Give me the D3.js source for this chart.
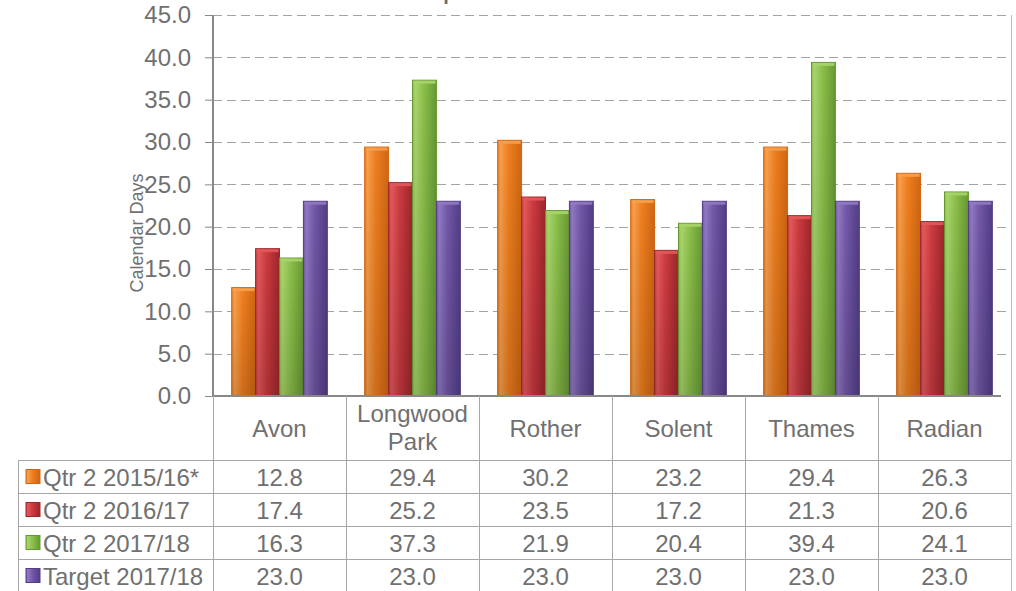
<!DOCTYPE html>
<meta charset='utf-8'>
<html>

<head>
    <title>Calendar Days comparison</title>
    <script src="https://cdn.jsdelivr.net/npm/d3@7"></script>
    <style>
        body {
            padding: 0;
            margin: 0;
            background: #fff;
        }

        svg text {
            font-family: "Liberation Sans", Arial, sans-serif;
            fill: #707070;
        }
    </style>
</head>

<body>
    <div id="chart"></div>

    <script>
        // data
        var categories = ["Avon", "Longwood Park", "Rother", "Solent", "Thames", "Radian"];
        var seriesNames = ["Qtr 2 2015/16*", "Qtr 2 2016/17", "Qtr 2 2017/18", "Target 2017/18"];
        var qtr2_1516 = [12.8, 29.4, 30.2, 23.2, 29.4, 26.3];
        var qtr2_1617 = [17.4, 25.2, 23.5, 17.2, 21.3, 20.6];
        var qtr2_1718 = [16.3, 37.3, 21.9, 20.4, 39.4, 24.1];
        var target_1718 = [23.0, 23.0, 23.0, 23.0, 23.0, 23.0];
        var yTicks = [0, 5, 10, 15, 20, 25, 30, 35, 40, 45];

        var seriesValues = [qtr2_1516, qtr2_1617, qtr2_1718, target_1718];

        // light / mid / dark per series for the bevelled look
        var palette = [
            ["#f7a04e", "#f07f1f", "#cf6612"],
            ["#e2595b", "#cc3b40", "#9c262b"],
            ["#a8d46c", "#8cc04b", "#679833"],
            ["#9079c2", "#7358a8", "#523d87"]
        ];

        var W = 1016, H = 591;
        var plotLeft = 213, plotRight = 1011, plotTop = 15, plotBase = 396;
        var tableLeft = 18;
        var headerBottom = 460, rowH = 33;
        var fontSize = "24px";

        var svg = d3.select("#chart").append("svg")
            .attr("width", W)
            .attr("height", H);

        var defs = svg.append("defs");
        palette.forEach(function (c, i) {
            var g = defs.append("linearGradient")
                .attr("id", "grad" + i)
                .attr("x1", 0).attr("x2", 1).attr("y1", 0).attr("y2", 0);
            g.append("stop").attr("offset", "0%").attr("stop-color", c[1]);
            g.append("stop").attr("offset", "12%").attr("stop-color", c[0]);
            g.append("stop").attr("offset", "45%").attr("stop-color", c[1]);
            g.append("stop").attr("offset", "100%").attr("stop-color", c[2]);
            var v = defs.append("linearGradient")
                .attr("id", "shade" + i)
                .attr("x1", 0).attr("x2", 0).attr("y1", 0).attr("y2", 1);
            v.append("stop").attr("offset", "0%").attr("stop-color", "#000").attr("stop-opacity", 0);
            v.append("stop").attr("offset", "100%").attr("stop-color", "#000").attr("stop-opacity", 0.14);
        });

        var x0 = d3.scaleBand()
            .domain(categories)
            .range([plotLeft, plotRight])
            .padding(0);

        var x1 = d3.scaleBand()
            .domain(d3.range(seriesNames.length))
            .range([0, x0.bandwidth()])
            .paddingInner(0)
            .paddingOuter(0.78);

        var y = d3.scaleLinear()
            .domain([0, 45])
            .range([plotBase, plotTop]);

        // title (mostly cut off at the top)
        svg.append("text")
            .attr("x", 577)
            .attr("y", 0)
            .attr("text-anchor", "middle")
            .style("font-size", "20px")
            .style("font-weight", "bold")
            .text("Comparison of Previous Year Results");

        // gridlines
        svg.append("g")
            .selectAll("line")
            .data(yTicks.filter(function (d) { return d > 0; }))
            .enter()
            .append("line")
            .attr("x1", plotLeft)
            .attr("x2", plotRight)
            .attr("y1", function (d) { return Math.round(y(d)) + 0.5; })
            .attr("y2", function (d) { return Math.round(y(d)) + 0.5; })
            .attr("stroke", "#a3a3a3")
            .attr("stroke-dasharray", "9,5");

        // y axis
        var yAxis = d3.axisLeft(y)
            .tickValues(yTicks)
            .tickFormat(d3.format(".1f"))
            .tickSize(8)
            .tickPadding(14);

        var gy = svg.append("g")
            .attr("transform", "translate(" + plotLeft + ",0)")
            .call(yAxis);
        gy.select(".domain").remove();
        gy.selectAll(".tick line").attr("stroke", "#888");
        gy.selectAll(".tick text")
            .style("font-size", fontSize);

        svg.append("text")
            .attr("transform", "translate(143,233) rotate(-90)")
            .attr("text-anchor", "middle")
            .style("font-size", "18px")
            .text("Calendar Days");

        // bars
        var groups = svg.append("g")
            .selectAll("g")
            .data(categories)
            .enter()
            .append("g")
            .attr("transform", function (d) { return "translate(" + x0(d) + ",0)"; });

        groups.each(function (cat, ci) {
            var g = d3.select(this);
            seriesValues.forEach(function (vals, si) {
                var v = vals[ci];
                var bx = x1(si), bw = x1.bandwidth();
                g.append("rect")
                    .attr("x", bx)
                    .attr("y", y(v))
                    .attr("width", bw)
                    .attr("height", y(0) - y(v))
                    .attr("fill", "url(#grad" + si + ")")
                    .attr("stroke", palette[si][2])
                    .attr("stroke-width", 1);
                g.append("rect")
                    .attr("x", bx)
                    .attr("y", y(v))
                    .attr("width", bw)
                    .attr("height", y(0) - y(v))
                    .attr("fill", "url(#shade" + si + ")");
                g.append("rect")
                    .attr("x", bx + 1)
                    .attr("y", y(v) + 0.5)
                    .attr("width", bw - 2)
                    .attr("height", 3)
                    .attr("fill", palette[si][0])
                    .attr("opacity", 0.9);
            });
        });

        // axis lines
        svg.append("line")
            .attr("x1", plotLeft).attr("x2", plotLeft)
            .attr("y1", plotTop).attr("y2", plotBase)
            .attr("stroke", "#888").attr("stroke-width", 2);
        svg.append("line")
            .attr("x1", plotLeft).attr("x2", plotRight - 10)
            .attr("y1", plotBase).attr("y2", plotBase)
            .attr("stroke", "#888").attr("stroke-width", 2);
        svg.append("line")
            .attr("x1", plotRight + 0.5).attr("x2", plotRight + 0.5)
            .attr("y1", plotTop).attr("y2", H)
            .attr("stroke", "#bbb");

        // data table
        var table = svg.append("g");
        var lineColor = "#a6a6a6";

        // vertical lines between categories
        var bounds = categories.map(function (c) { return x0(c); });
        table.selectAll(".vline")
            .data(bounds)
            .enter()
            .append("line")
            .attr("x1", function (d) { return Math.round(d) + 0.5; })
            .attr("x2", function (d) { return Math.round(d) + 0.5; })
            .attr("y1", plotBase)
            .attr("y2", H)
            .attr("stroke", lineColor);

        table.append("line")
            .attr("x1", tableLeft + 0.5).attr("x2", tableLeft + 0.5)
            .attr("y1", headerBottom).attr("y2", H)
            .attr("stroke", lineColor);

        // horizontal row lines
        table.selectAll(".hline")
            .data(d3.range(seriesNames.length))
            .enter()
            .append("line")
            .attr("x1", tableLeft)
            .attr("x2", plotRight)
            .attr("y1", function (d) { return headerBottom + d * rowH + 0.5; })
            .attr("y2", function (d) { return headerBottom + d * rowH + 0.5; })
            .attr("stroke", lineColor);

        // category headers
        categories.forEach(function (c) {
            var cx = x0(c) + x0.bandwidth() / 2;
            var words = c.split(" ");
            var t = table.append("text")
                .attr("text-anchor", "middle")
                .style("font-size", fontSize);
            if (words.length > 1) {
                t.append("tspan").attr("x", cx).attr("y", 422).text(words[0]);
                t.append("tspan").attr("x", cx).attr("y", 450).text(words.slice(1).join(" "));
            } else {
                t.attr("x", cx).attr("y", 437).text(c);
            }
        });

        // rows
        seriesNames.forEach(function (name, si) {
            var rowTop = headerBottom + si * rowH;
            var midY = rowTop + rowH / 2;

            table.append("rect")
                .attr("x", 26)
                .attr("y", midY - 7)
                .attr("width", 14)
                .attr("height", 14)
                .attr("fill", "url(#grad" + si + ")")
                .attr("stroke", palette[si][2]);

            table.append("text")
                .attr("x", 43)
                .attr("y", midY + 9)
                .style("font-size", fontSize)
                .text(name);

            seriesValues[si].forEach(function (v, ci) {
                table.append("text")
                    .attr("x", x0(categories[ci]) + x0.bandwidth() / 2)
                    .attr("y", midY + 9)
                    .attr("text-anchor", "middle")
                    .style("font-size", fontSize)
                    .text(d3.format(".1f")(v));
            });
        });
    </script>
</body>

</html>
